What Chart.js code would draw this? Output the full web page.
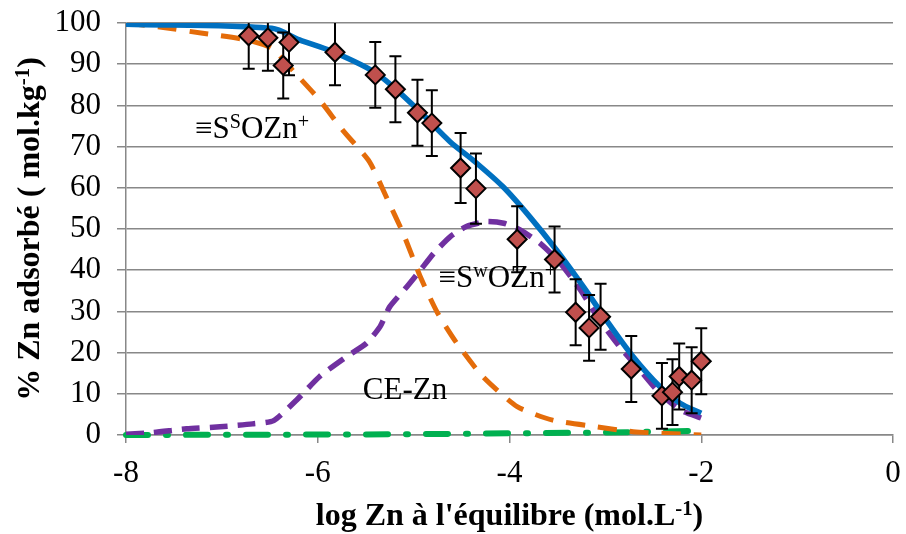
<!DOCTYPE html>
<html>
<head>
<meta charset="utf-8">
<script src="https://cdn.jsdelivr.net/npm/chart.js@4"></script>
<style>
  body { margin: 0; background: #fff; }
  #wrap { width: 906px; height: 534px; }
</style>
</head>
<body>
<div id="wrap"><canvas id="znChart" width="906" height="534"></canvas></div>
<script>
// Measured points (log Zn eq, % adsorbed) with error bars
const obsX = [-6.72, -6.52, -6.30, -6.36, -5.82, -5.40, -5.19, -4.96, -4.81, -4.51, -4.35,
              -3.92, -3.53, -3.31, -3.17, -3.05, -2.73, -2.41, -2.30, -2.23, -2.10, -2.00];
const obsY = [96.9, 96.4, 95.3, 89.7, 92.9, 87.4, 83.9, 78.2, 75.7, 64.8, 59.8,
              47.5, 42.6, 29.8, 26.0, 28.7, 16.0, 9.5, 10.4, 14.2, 13.3, 17.9];
const obsErr = [8, 8, 8, 8, 8, 8, 8, 8, 8, 8.5, 8.5,
                8, 8, 8, 8, 8, 8, 8, 8, 8, 8, 8];

// Model: total
const totalX = [-8, -6.48, -6.19, -5.84, -5.39, -4.97, -4.62, -4.38, -4.07, -3.79, -3.51, -3.23, -2.99, -2.71, -2.43, -2.22, -2.0];
const totalY = [99.7, 98.7, 95.9, 93.0, 87.8, 79.3, 71.2, 66.7, 60.3, 53.0, 44.9, 36.0, 27.9, 19.0, 11.7, 7.7, 5.3];

// Model: strong sites  =SsOZn+
const strongX = [-8, -7.61, -7.2, -6.74, -6.48, -6.25, -5.98, -5.74, -5.46, -5.27, -5.11, -4.93, -4.75, -4.55, -4.28, -3.92, -3.55, -3.09, -2.71, -2.0];
const strongY = [100, 98.9, 97.5, 95.9, 93.9, 88.2, 81.3, 74.0, 66.3, 57.0, 49.0, 38.4, 29.6, 22.3, 14.2, 6.9, 3.6, 2.0, 0.8, 0];

// Model: weak sites  =SwOZn+
const weakX = [-8, -7.72, -7.37, -7.02, -6.68, -6.46, -6.22, -5.98, -5.70, -5.49, -5.35, -5.25, -5.07, -4.93, -4.79,
               -4.62, -4.45, -4.24, -4.06, -3.89, -3.68, -3.47, -3.26, -3.06, -2.85, -2.64, -2.43, -2.22, -2.0];
const weakY = [0.2, 0.6, 1.5, 2.0, 2.7, 3.5, 8.5, 14.2, 19.0, 22.3, 26.3, 31.1, 36.0, 40.0, 44.1,
               48.1, 50.6, 51.8, 51.4, 49.8, 46.5, 41.7, 35.2, 27.9, 21.4, 15.8, 10.1, 6.1, 4.1];

// Model: cation exchange CE-Zn
const ceX = [-8, -7, -6, -5, -4, -3, -2.5, -2.1];
const ceY = [0, 0.05, 0.1, 0.2, 0.4, 0.6, 0.8, 1.0];

const xTickVals = [-8, -6, -4, -2, 0];
const yTickVals = [0, 10, 20, 30, 40, 50, 60, 70, 80, 90, 100];

const FONT = '"Liberation Serif", "Times New Roman", serif';
Chart.defaults.font.family = FONT;
const pts = (xs, ys) => xs.map((x, i) => ({ x: x, y: ys[i] }));

// text with superscript pieces
function richWidth(ctx, parts, size, bold) {
    let w = 0;
    parts.forEach(p => {
        ctx.font = (bold ? 'bold ' : '') + (p.sup ? size * 0.65 : size) + 'px ' + FONT;
        w += ctx.measureText(p.t).width;
    });
    return w;
}
function drawRich(ctx, parts, x, y, size, bold) {
    let cx = x;
    parts.forEach(p => {
        const s = p.sup ? size * 0.65 : size;
        ctx.font = (bold ? 'bold ' : '') + s + 'px ' + FONT;
        ctx.fillText(p.t, cx, p.sup ? y - size * 0.32 : y);
        cx += ctx.measureText(p.t).width;
    });
}

const curveLabels = [
    { x: -7.28, y: 72.1, parts: [{ t: '\u2261S' }, { t: 'S', sup: true }, { t: 'OZn' }, { t: '+', sup: true }] },
    { x: -4.74, y: 35.9, parts: [{ t: '\u2261S' }, { t: 'w', sup: true }, { t: 'OZn' }, { t: '+', sup: true }] },
    { x: -5.53, y: 8.7, parts: [{ t: 'CE-Zn' }] }
];

const errorBars = {
    id: 'errorBars',
    beforeDatasetDraw(chart, args) {
        if (args.index !== 0) return;
        const { ctx, chartArea, scales } = chart;
        ctx.save();
        ctx.beginPath();
        ctx.rect(chartArea.left, chartArea.top, chartArea.right - chartArea.left, chartArea.bottom - chartArea.top);
        ctx.clip();
        ctx.strokeStyle = '#000';
        ctx.lineWidth = 2;
        obsX.forEach((x, i) => {
            const px = scales.x.getPixelForValue(x);
            const top = scales.y.getPixelForValue(obsY[i] + obsErr[i]);
            const bot = scales.y.getPixelForValue(obsY[i] - obsErr[i]);
            ctx.beginPath();
            ctx.moveTo(px, top); ctx.lineTo(px, bot);
            ctx.moveTo(px - 6, top); ctx.lineTo(px + 6, top);
            ctx.moveTo(px - 6, bot); ctx.lineTo(px + 6, bot);
            ctx.stroke();
        });
        ctx.restore();
    }
};

const textLayer = {
    id: 'textLayer',
    afterDatasetsDraw(chart) {
        const { ctx, chartArea, scales } = chart;
        ctx.save();
        ctx.fillStyle = '#000';
        ctx.textAlign = 'left';
        ctx.textBaseline = 'alphabetic';
        curveLabels.forEach(l => {
            drawRich(ctx, l.parts, scales.x.getPixelForValue(l.x), scales.y.getPixelForValue(l.y), 31, false);
        });
        // x axis title
        const xt = [{ t: "log Zn \u00e0 l'\u00e9quilibre (mol.L" }, { t: '-1', sup: true }, { t: ')' }];
        const xw = richWidth(ctx, xt, 32, true);
        drawRich(ctx, xt, (chartArea.left + chartArea.right) / 2 - xw / 2, 525, 32, true);
        // y axis title
        const yt = [{ t: '% Zn adsorb\u00e9 ( mol.kg' }, { t: '-1', sup: true }, { t: ')' }];
        const yw = richWidth(ctx, yt, 32, true);
        ctx.translate(39, (chartArea.top + chartArea.bottom) / 2);
        ctx.rotate(-Math.PI / 2);
        drawRich(ctx, yt, -yw / 2, 0, 32, true);
        ctx.restore();
    }
};

const ctx = document.getElementById('znChart').getContext('2d');
const znChart = new Chart(ctx, {
    type: 'scatter',
    data: {
        datasets: [{
            label: 'mesures',
            data: pts(obsX, obsY),
            pointStyle: 'rectRot',
            pointRadius: 9.5,
            backgroundColor: '#C0504D',
            borderColor: '#000',
            borderWidth: 2,
            showLine: false
        }, {
            label: 'total',
            data: pts(totalX, totalY),
            showLine: true,
            pointRadius: 0,
            borderColor: '#0070C0',
            borderWidth: 5.5,
            tension: 0.3
        }, {
            label: 'SsOZn+',
            data: pts(strongX, strongY),
            showLine: true,
            pointRadius: 0,
            borderColor: '#E46C0A',
            borderWidth: 5,
            borderDash: [19, 13],
            tension: 0.2
        }, {
            label: 'SwOZn+',
            data: pts(weakX, weakY),
            showLine: true,
            pointRadius: 0,
            borderColor: '#7030A0',
            borderWidth: 5.5,
            borderDash: [18, 10],
            tension: 0.2
        }, {
            label: 'CE-Zn',
            data: pts(ceX, ceY),
            showLine: true,
            pointRadius: 0,
            borderColor: '#00B050',
            borderWidth: 6,
            borderDash: [22, 18, 2, 18],
            borderCapStyle: 'round',
            clip: false,
            tension: 0
        }]
    },
    options: {
        responsive: false,
        animation: false,
        layout: { padding: { top: 23, right: 13, left: 0, bottom: 0 } },
        plugins: {
            legend: { display: false },
            tooltip: { enabled: false }
        },
        scales: {
            x: {
                min: -8, max: 0,
                afterFit: s => { s.height = 99; s.paddingLeft = 0; s.paddingRight = 0; },
                afterBuildTicks: s => { s.ticks = xTickVals.map(v => ({ value: v })); },
                ticks: { color: '#000', font: { family: FONT, size: 31 }, padding: 12, autoSkip: false, maxRotation: 0 },
                grid: { drawOnChartArea: false, drawTicks: true, tickLength: 8, color: '#888', lineWidth: 1.5 },
                border: { color: '#888', width: 1.5 }
            },
            y: {
                min: 0, max: 100,
                afterFit: s => { s.width = 126; s.paddingTop = 0; s.paddingBottom = 0; },
                afterBuildTicks: s => { s.ticks = yTickVals.map(v => ({ value: v })); },
                ticks: { color: '#000', font: { family: FONT, size: 31 }, padding: 16, autoSkip: false },
                grid: { color: '#888', lineWidth: 1.5, tickLength: 9 },
                border: { color: '#888', width: 1.5 }
            }
        }
    },
    plugins: [errorBars, textLayer]
});
</script>
</body>
</html>
